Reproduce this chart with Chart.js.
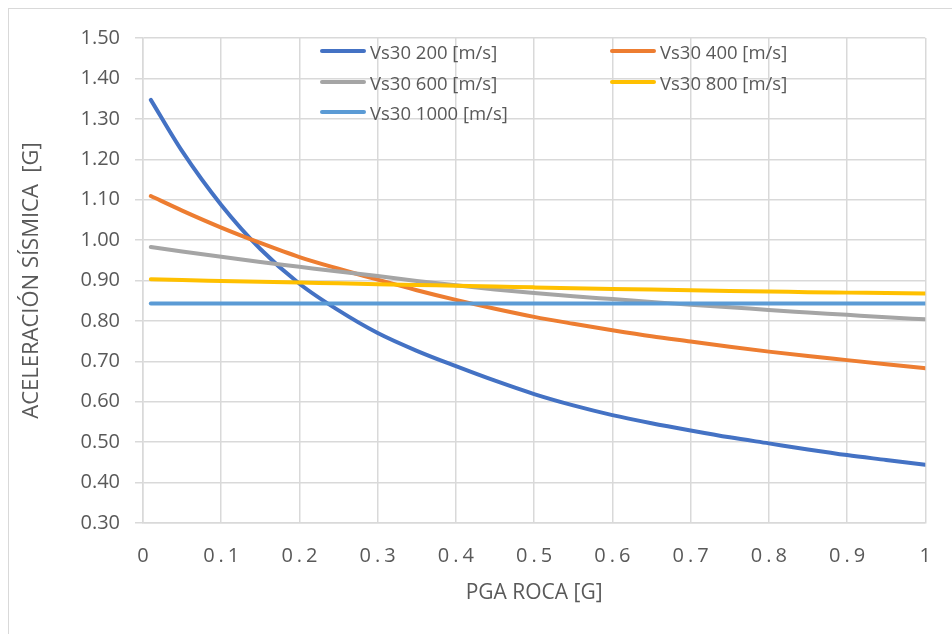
<!DOCTYPE html>
<html>
<head>
<meta charset="utf-8">
<script src="https://cdn.jsdelivr.net/npm/chart.js@4.4.1/dist/chart.umd.min.js"></script>
<style>
    body { margin: 0; background: #fff; overflow: hidden; }
    #wrap { position: relative; width: 952px; height: 634px; }
    #frame { position: absolute; left: 8px; top: 8px; width: 1000px; height: 700px; border: 1px solid #d9d9d9; box-sizing: border-box; }
    canvas { position: absolute; left: 0; top: 0; }
    .leg { position: absolute; display: flex; align-items: center; font-family: "Open Sans", sans-serif; font-size: 18.5px; color: #595959; white-space: nowrap; }
    .leg span.ln { display: inline-block; width: 46px; height: 4px; border-radius: 2px; margin-right: 4px; }
</style>
</head>
<body>
<div id="wrap">
    <div id="frame"></div>
    <canvas id="chart1" width="952" height="634"></canvas>
    <div id="legend"></div>
</div>
<script>
// PGA roca [G]
var pgaRoca = [0.01, 0.05, 0.10, 0.15, 0.20, 0.25, 0.30, 0.35, 0.40, 0.45, 0.50,
               0.55, 0.60, 0.65, 0.70, 0.75, 0.80, 0.85, 0.90, 0.95, 1.00];

// aceleracion sismica [G] per Vs30
var vs200  = [1.347, 1.220, 1.087, 0.978, 0.892, 0.826, 0.770, 0.726, 0.688, 0.652, 0.619,
              0.591, 0.567, 0.547, 0.529, 0.512, 0.497, 0.482, 0.468, 0.456, 0.444];
var vs400  = [1.109, 1.073, 1.031, 0.993, 0.958, 0.929, 0.902, 0.876, 0.852, 0.830, 0.810,
              0.793, 0.777, 0.762, 0.749, 0.736, 0.724, 0.713, 0.703, 0.693, 0.683];
var vs600  = [0.983, 0.972, 0.959, 0.946, 0.934, 0.922, 0.911, 0.899, 0.888, 0.878, 0.869,
              0.861, 0.854, 0.847, 0.840, 0.834, 0.827, 0.821, 0.815, 0.809, 0.804];
var vs800  = [0.903, 0.901, 0.899, 0.897, 0.895, 0.893, 0.891, 0.889, 0.887, 0.885, 0.883,
              0.881, 0.879, 0.878, 0.876, 0.874, 0.873, 0.871, 0.870, 0.869, 0.868];
var vs1000 = [0.843, 0.843, 0.843, 0.843, 0.843, 0.843, 0.843, 0.843, 0.843, 0.843, 0.843,
              0.843, 0.843, 0.843, 0.843, 0.843, 0.843, 0.843, 0.843, 0.843, 0.843];

var seriesLabels = ["Vs30 200 [m/s]", "Vs30 400 [m/s]", "Vs30 600 [m/s]", "Vs30 800 [m/s]", "Vs30 1000 [m/s]"];
var seriesColors = ["#4472C4", "#ED7D31", "#A5A5A5", "#FFC000", "#5B9BD5"];
var seriesValues = [vs200, vs400, vs600, vs800, vs1000];

var xTitle = "PGA ROCA [G]";
var yTitle = "ACELERACIÓN SÍSMICA  [G]";

var textColor = "#595959";
var gridColor = "#d9d9d9";

function toPoints(arr) {
    return pgaRoca.map(function (x, i) { return { x: x, y: arr[i] }; });
}

var datasets = [];
for (var i = 0; i < seriesLabels.length; i++) {
    datasets.push({
        label: seriesLabels[i],
        data: toPoints(seriesValues[i]),
        borderColor: seriesColors[i],
        backgroundColor: seriesColors[i],
        borderWidth: 4,
        borderCapStyle: "round",
        pointRadius: 0,
        cubicInterpolationMode: "monotone",
        fill: false,
        // later series drawn on top, like in excel
        order: seriesLabels.length - i
    });
}

// spaced out x tick labels
var spacedTicks = {
    id: "spacedTicks",
    afterUpdate: function (chart) {
        var sx = chart.scales.x;
        if (sx && !sx._spaced) {
            var orig = sx.drawLabels;
            sx.drawLabels = function (area) {
                var ctx = this.ctx;
                ctx.save();
                ctx.letterSpacing = "4px";
                ctx.translate(2, 0);
                orig.call(this, area);
                ctx.restore();
            };
            sx._spaced = true;
        }
    }
};

var chart = new Chart(document.getElementById("chart1"), {
    type: "line",
    data: { datasets: datasets },
    plugins: [spacedTicks],
    options: {
        responsive: false,
        animation: false,
        devicePixelRatio: 1,
        layout: { padding: { top: 38, right: 24, left: 0, bottom: 0 } },
        plugins: {
            legend: { display: false },
            tooltip: { enabled: false }
        },
        scales: {
            x: {
                type: "linear",
                min: 0,
                max: 1,
                afterFit: function (scale) { scale.height = 111; },
                ticks: {
                    stepSize: 0.1,
                    color: textColor,
                    padding: 21,
                    maxRotation: 0,
                    font: { family: "Open Sans", size: 20 },
                    callback: function (v) {
                        if (v === 0 || v === 1) return String(v);
                        return v.toFixed(1);
                    }
                },
                grid: { color: gridColor, lineWidth: 1.5, drawTicks: false },
                border: { color: gridColor, width: 1.5 },
                title: {
                    display: true,
                    text: xTitle,
                    color: textColor,
                    font: { family: "Open Sans", size: 21 },
                    padding: { top: 0, bottom: 28 }
                }
            },
            y: {
                min: 0.3,
                max: 1.5,
                afterFit: function (scale) { scale.width = 143; },
                ticks: {
                    stepSize: 0.1,
                    color: textColor,
                    padding: 15,
                    font: { family: "Open Sans", size: 20 },
                    callback: function (v) { return v.toFixed(2); }
                },
                grid: { color: gridColor, lineWidth: 1.5, tickLength: 8 },
                border: { color: gridColor, width: 1.5 },
                title: {
                    display: true,
                    text: yTitle,
                    color: textColor,
                    font: { family: "Open Sans", size: 22 },
                    padding: { top: 19, bottom: 0 }
                }
            }
        }
    }
});

// legend inside the plot, two columns like the original
var legendPos = [[320, 51], [610, 51], [320, 82], [610, 82], [320, 112]];
var legendEl = document.getElementById("legend");
chart.data.datasets.forEach(function (ds, i) {
    var item = document.createElement("div");
    item.className = "leg";
    item.style.left = legendPos[i][0] + "px";
    item.style.top = (legendPos[i][1] - 13) + "px";
    item.style.height = "26px";
    item.innerHTML = '<span class="ln" style="background:' + ds.borderColor + '"></span>' + ds.label;
    legendEl.appendChild(item);
});
</script>
</body>
</html>
